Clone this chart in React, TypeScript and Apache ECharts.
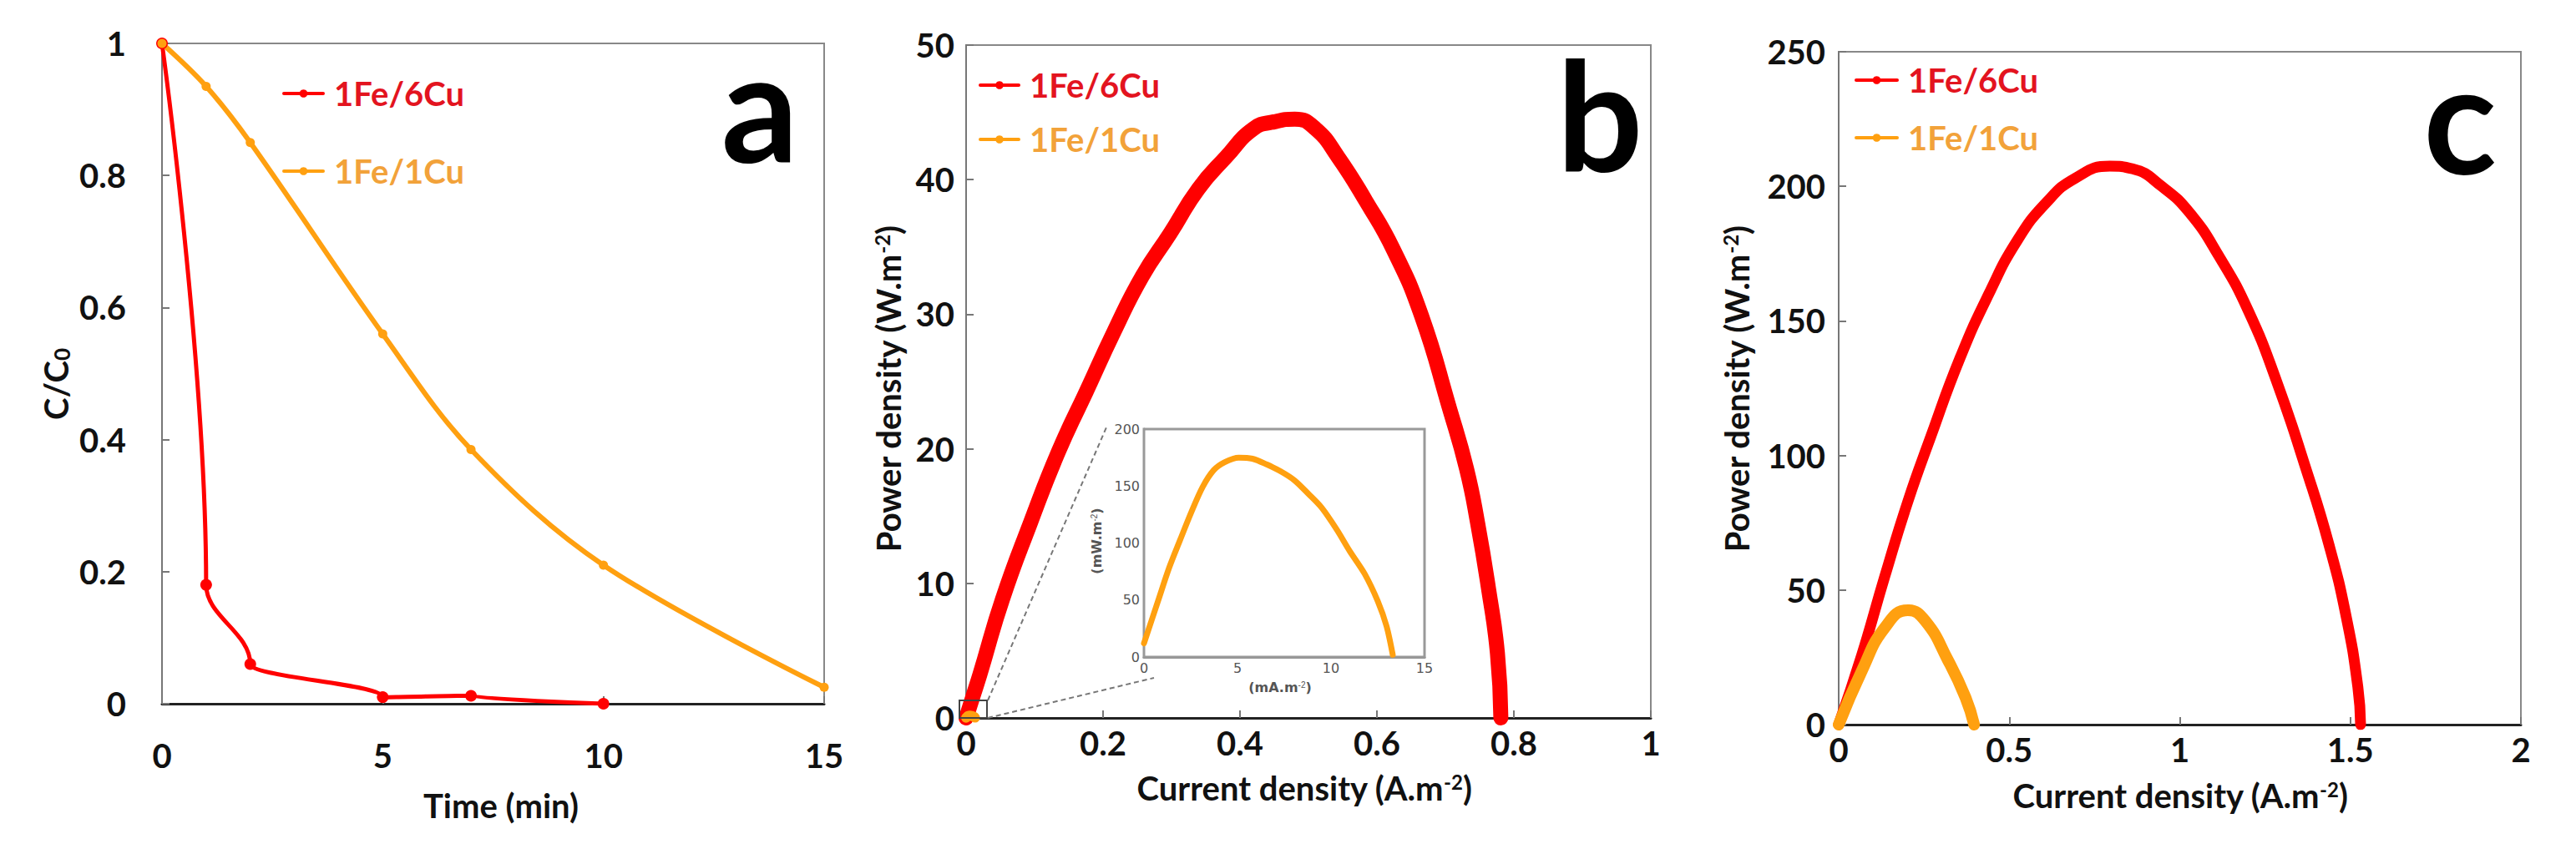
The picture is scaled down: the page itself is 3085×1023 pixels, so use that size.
import React, { useEffect, useRef } from "react";
import * as echarts from "echarts";

// ---------- Data ----------
// Panel a: C/C0 vs time (min)
const timeRed = [0, 1, 2, 5, 7, 10];
const ratioRed = [1, 0.18, 0.06, 0.01, 0.012, 0];
const timeOrange = [0, 1, 2, 5, 7, 10, 15];
const ratioOrange = [1, 0.935, 0.85, 0.56, 0.385, 0.21, 0.025];

// Panel b: power density (W.m-2) vs current density (A.m-2), 1Fe/6Cu
const currentBRed = [0, 0.01, 0.02, 0.053, 0.094, 0.135, 0.176, 0.216, 0.257, 0.298, 0.339, 0.38, 0.42, 0.45, 0.48, 0.51, 0.543, 0.584, 0.624, 0.665, 0.706, 0.731, 0.747, 0.763, 0.776, 0.781];
const powerBRed = [0, 1.6, 3.2, 8.8, 14.5, 19.8, 24.3, 28.7, 32.8, 36.0, 39.3, 41.7, 43.8, 44.3, 44.5, 43.8, 41.7, 38.4, 34.8, 29.9, 23.0, 18.5, 14.5, 9.6, 4.8, 0];

// Inset: 1Fe/1Cu in mW.m-2 vs mA.m-2
const currentInset = [0, 0.75, 1.34, 1.94, 2.53, 3.13, 3.73, 4.32, 5.07, 5.8, 6.56, 7.3, 8.05, 8.8, 9.5, 10.3, 11.0, 11.8, 12.5, 12.97, 13.3];
const powerInset = [12, 49, 78, 103, 127, 149, 164, 171, 175, 174, 169, 163, 155, 143, 131, 112, 93, 73, 49, 27, 2];

// Panel c
const currentCRed = [0, 0.068, 0.135, 0.203, 0.27, 0.355, 0.44, 0.524, 0.609, 0.693, 0.795, 0.862, 0.947, 1.03, 1.115, 1.2, 1.284, 1.37, 1.437, 1.488, 1.522, 1.53];
const powerCRed = [0, 26, 55, 83, 107, 136, 160, 180, 194, 203, 207.5, 206.5, 200, 190, 174, 154, 127.5, 95, 67, 40, 14, 0];
const currentCOrange = [0, 0.068, 0.135, 0.203, 0.254, 0.32, 0.372, 0.397];
const powerCOrange = [0, 20, 36, 42.5, 38.5, 24, 10, 0];

const xTicksA = { min: 0, max: 15, interval: 5 };
const yTicksA = { min: 0, max: 1, interval: 0.2 };
const xTicksB = { min: 0, max: 1, interval: 0.2 };
const yTicksB = { min: 0, max: 50, interval: 10 };
const xTicksC = { min: 0, max: 2, interval: 0.5 };
const yTicksC = { min: 0, max: 250, interval: 50 };
const xTicksI = { min: 0, max: 15, interval: 5 };
const yTicksI = { min: 0, max: 200, interval: 50 };

const NAME_6CU = "1Fe/6Cu";
const NAME_1CU = "1Fe/1Cu";

// ---------- Styles ----------
const RED = "#ff0000";
const ORANGE = "#ffa010";
const RED_TEXT = "#e3141f";
const ORANGE_TEXT = "#f2a23a";
const FONT = "Lato";

const zip = (xs: number[], ys: number[]) => xs.map((x, i) => [x, ys[i]]);
const scale = (arr: number[], k: number) => arr.map((v) => v * k);

function xAxisOf(gridIndex: number, ticks: any, margin: number, inset = false) {
  return {
    type: "value",
    gridIndex,
    ...ticks,
    splitLine: { show: false },
    axisLine: { show: true, lineStyle: { color: inset ? "#888" : "#222", width: 3 } },
    axisTick: { show: true, inside: true, length: inset ? 6 : 9, lineStyle: { color: "#777", width: 2 } },
    axisLabel: inset
      ? { margin, fontFamily: "DejaVu Sans", fontSize: 16, color: "#555" }
      : { margin, fontFamily: FONT, fontWeight: "bold", fontSize: 40, color: "#111" },
  };
}
function yAxisOf(gridIndex: number, ticks: any, margin: number, inset = false) {
  return {
    type: "value",
    gridIndex,
    ...ticks,
    splitLine: { show: false },
    axisLine: { show: true, lineStyle: { color: inset ? "#888" : "#777", width: inset ? 3 : 2 } },
    axisTick: { show: true, inside: true, length: inset ? 6 : 9, lineStyle: { color: "#777", width: 2 } },
    axisLabel: inset
      ? { margin, fontFamily: "DejaVu Sans", fontSize: 16, color: "#555" }
      : { margin, fontFamily: FONT, fontWeight: "bold", fontSize: 40, color: "#111" },
  };
}

function legendOf(left: number, top: number, itemWidth: number, itemGap: number) {
  return {
    left,
    top,
    orient: "vertical",
    itemWidth,
    itemHeight: 12,
    itemGap,
    selectedMode: false,
    lineStyle: { width: 4 },
    textStyle: { fontFamily: FONT, fontWeight: "bold", fontSize: 40, padding: [0, 0, 0, 8] },
    data: [
      { name: NAME_6CU, textStyle: { color: RED_TEXT } },
      { name: NAME_1CU, textStyle: { color: ORANGE_TEXT } },
    ],
  };
}

const titleStyle = { fontFamily: FONT, fontWeight: "bold", fontSize: 40, fill: "#111", align: "center", verticalAlign: "middle" };
const supRich = { sup: { fontFamily: FONT, fontWeight: "bold", fontSize: 24, verticalAlign: "top", padding: [0, 0, 14, 0] } };
const letterStyle = { fontFamily: FONT, fontWeight: "bold", fontSize: 182, fill: "#000", align: "center", verticalAlign: "middle" };

function buildOption() {
  const grids = [
    { left: 194, top: 52, width: 793, height: 791 },
    { left: 1157, top: 54, width: 820, height: 806 },
    { left: 2202, top: 62, width: 817, height: 806 },
    { left: 1370, top: 514, width: 336, height: 273 },
  ].map((g, i) => ({ ...g, show: true, borderColor: i === 3 ? "#999" : "#888", borderWidth: i === 3 ? 3 : 2, backgroundColor: "#fff", containLabel: false, z: i === 3 ? 5 : 0 }));

  const lineSeries = (name: string, xi: number, data: number[][], color: string, width: number, extra: any = {}) => ({
    type: "line",
    name,
    xAxisIndex: xi,
    yAxisIndex: xi,
    data,
    showSymbol: false,
    symbol: "circle",
    smooth: 0.5,
    color,
    lineStyle: { color, width, cap: "round", join: "round" },
    itemStyle: { color },
    emphasis: { disabled: true },
    z: xi === 3 ? 6 : 2,
    ...extra,
  });

  return {
    animation: false,
    backgroundColor: "#fff",
    grid: grids,
    xAxis: [xAxisOf(0, xTicksA, 42), xAxisOf(1, xTicksB, 10), xAxisOf(2, xTicksC, 10), xAxisOf(3, xTicksI, 5, true)],
    yAxis: [yAxisOf(0, yTicksA, 43), yAxisOf(1, yTicksB, 14), yAxisOf(2, yTicksC, 16), yAxisOf(3, yTicksI, 5, true)],
    legend: [legendOf(333, 87, 47, 53), legendOf(1167, 77, 46, 25), legendOf(2216, 71, 49, 29)],
    series: [
      lineSeries(NAME_6CU, 0, zip(timeRed, ratioRed), RED, 5, { showSymbol: true, symbolSize: 14, smooth: 0.4, smoothMonotone: "y" }),
      lineSeries(NAME_1CU, 0, zip(timeOrange, ratioOrange), ORANGE, 6, { showSymbol: true, symbolSize: 11, smooth: 0.35 }),
      lineSeries(NAME_6CU, 1, zip(currentBRed, powerBRed), RED, 18),
      lineSeries(NAME_1CU, 1, zip(scale(currentInset, 0.001), scale(powerInset, 0.001)), ORANGE, 12),
      lineSeries(NAME_6CU, 2, zip(currentCRed, powerCRed), RED, 13),
      lineSeries(NAME_1CU, 2, zip(currentCOrange, powerCOrange), ORANGE, 14),
      lineSeries(NAME_1CU, 3, zip(currentInset, powerInset), ORANGE, 7, { smooth: 0.3 }),
    ],
    graphic: [
      // panel letters
      { type: "text", x: 910, y: 124, style: { ...letterStyle, text: "a" } },
      { type: "text", x: 1916, y: 134, style: { ...letterStyle, text: "b" } },
      { type: "text", x: 2946, y: 138, style: { ...letterStyle, text: "c" } },
      // axis titles
      { type: "text", x: 600, y: 965, style: { ...titleStyle, text: "Time (min)" } },
      { type: "text", x: 67, y: 460, rotation: Math.PI / 2, style: { ...titleStyle, text: "C/C{sub|0}", rich: { sub: { fontFamily: FONT, fontWeight: "bold", fontSize: 26, verticalAlign: "bottom", padding: [14, 0, 0, 0] } } } },
      { type: "text", x: 1562, y: 944, style: { ...titleStyle, text: "Current density (A.m{sup|-2})", rich: supRich } },
      { type: "text", x: 1064, y: 466, rotation: Math.PI / 2, style: { ...titleStyle, text: "Power density (W.m{sup|-2})", rich: supRich } },
      { type: "text", x: 2611, y: 953, style: { ...titleStyle, text: "Current density (A.m{sup|-2})", rich: supRich } },
      { type: "text", x: 2080, y: 466, rotation: Math.PI / 2, style: { ...titleStyle, text: "Power density (W.m{sup|-2})", rich: supRich } },
      // inset titles
      { type: "text", x: 1533, y: 823, z: 10, style: { fontFamily: "DejaVu Sans", fontWeight: "bold", fontSize: 16, fill: "#555", align: "center", verticalAlign: "middle", text: "(mA.m{s|-2})", rich: { s: { fontSize: 10, verticalAlign: "top", padding: [0, 0, 6, 0] } } } },
      { type: "text", x: 1313, y: 648, z: 10, rotation: Math.PI / 2, style: { fontFamily: "DejaVu Sans", fontWeight: "bold", fontSize: 16, fill: "#555", align: "center", verticalAlign: "middle", text: "(mW.m{s|-2})", rich: { s: { fontSize: 10, verticalAlign: "top", padding: [0, 0, 6, 0] } } } },
      // zoom box and connectors
      { type: "rect", z: 10, shape: { x: 1149, y: 839, width: 33, height: 21 }, style: { fill: "none", stroke: "#444", lineWidth: 2 } },
      { type: "line", z: 10, shape: { x1: 1183, y1: 839, x2: 1325, y2: 512 }, style: { stroke: "#777", lineWidth: 2, lineDash: [6, 4] } },
      { type: "line", z: 10, shape: { x1: 1183, y1: 860, x2: 1382, y2: 812 }, style: { stroke: "#777", lineWidth: 2, lineDash: [6, 4] } },
    ],
  };
}

export default function App() {
  const ref = useRef<HTMLDivElement>(null);
  useEffect(() => {
    if (!ref.current) return;
    const chart = echarts.init(ref.current, undefined, { renderer: "svg" });
    chart.setOption(buildOption() as any);
    return () => chart.dispose();
  }, []);
  return <div ref={ref} style={{ position: "fixed", left: 0, top: 0, width: 3085, height: 1023, background: "#fff" }} />;
}
